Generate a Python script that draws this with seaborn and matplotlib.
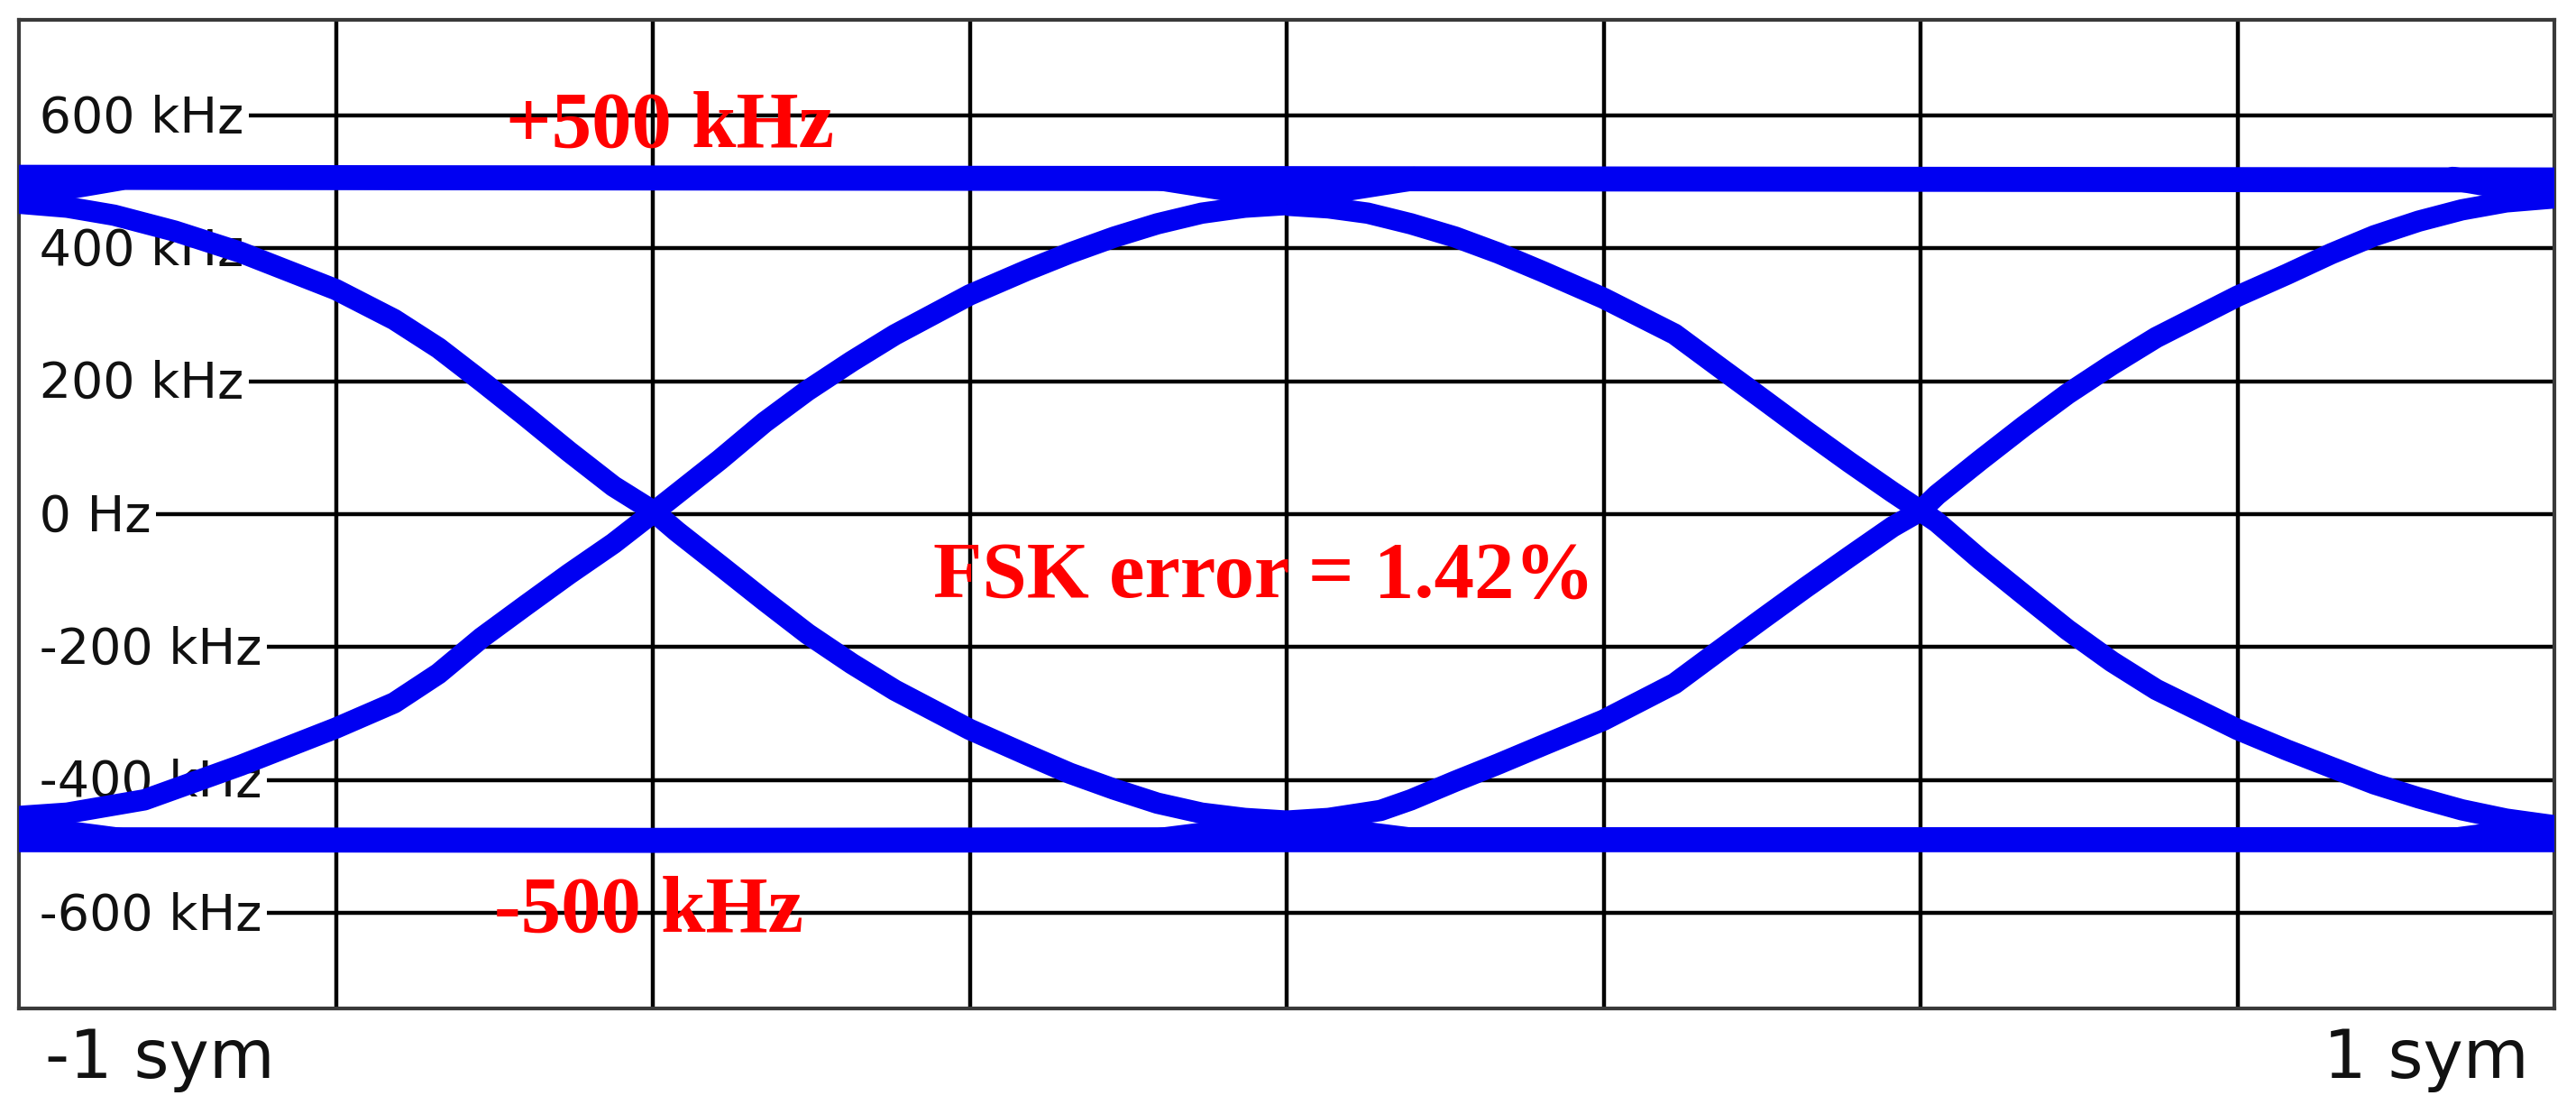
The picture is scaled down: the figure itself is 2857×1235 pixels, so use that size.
"""FSK eye diagram: frequency deviation over two symbol periods."""

import matplotlib
matplotlib.use('Agg')
import matplotlib.pyplot as plt
import matplotlib.transforms as mtransforms
import pandas as pd
import seaborn as sns

BLUE = '#0000f2'

# traces: t in symbols, f in kHz
fall_left_t = [-1.0, -0.962, -0.925, -0.877, -0.825, -0.75, -0.704, -0.669, -0.635,
               -0.600, -0.566, -0.531, -0.5, -0.481, -0.447, -0.412, -0.378, -0.343,
               -0.309, -0.25, -0.205, -0.171, -0.136, -0.102, -0.067, -0.033, 0.0]
fall_left_f = [468, 462, 450, 426, 394, 338, 293, 250, 200,
               147, 94, 42, 5, -26, -77, -130, -180, -225,
               -265, -324, -362, -390, -414, -435, -450, -458, -462]

rise_left_t = [-1.0, -0.962, -0.901, -0.825, -0.75, -0.704, -0.669, -0.635, -0.600,
               -0.566, -0.531, -0.5, -0.447, -0.412, -0.378, -0.343, -0.309, -0.25,
               -0.205, -0.171, -0.136, -0.102, -0.067, -0.033, 0.0]
rise_left_f = [-455, -450, -430, -378, -322, -284, -240, -186, -137,
               -90, -44, 2, 82, 138, 186, 230, 270, 330,
               367, 393, 417, 437, 453, 462, 466]

fall_right_t = [0.0, 0.033, 0.064, 0.098, 0.133, 0.167, 0.202, 0.25, 0.306, 0.340,
                0.375, 0.409, 0.444, 0.478, 0.5, 0.513, 0.547, 0.582, 0.616, 0.651,
                0.686, 0.75, 0.789, 0.824, 0.858, 0.893, 0.927, 0.962, 1.0]
fall_right_f = [465, 461, 453, 437, 417, 393, 365, 325, 271, 223,
                174, 126, 78, 33, 5, -12, -68, -122, -174, -222,
                -264, -324, -355, -381, -406, -427, -445, -459, -469]

rise_right_t = [0.0, 0.033, 0.074, 0.098, 0.133, 0.167, 0.202, 0.25, 0.306, 0.340,
                0.375, 0.409, 0.444, 0.478, 0.5, 0.513, 0.547, 0.582, 0.616, 0.651,
                0.686, 0.75, 0.789, 0.824, 0.858, 0.893, 0.927, 0.962, 1.0]
rise_right_f = [-462, -458, -446, -430, -402, -376, -348, -310, -255, -207,
                -158, -111, -64, -19, 5, 29, 81, 133, 181, 225,
                266, 328, 361, 392, 419, 441, 458, 470, 476]

# the two frequency rails
rail_t = [-1.0, -0.5, 0.0, 0.5, 1.0]
top_rail_f = [507, 506, 505, 504, 503]
bottom_rail_f = [-490, -491, -490, -490, -490]

# paths where the curves merge into the rails
join_edge_left_t = [-1.0, -0.96, -0.92]
join_center_t = [-0.10, -0.05, 0.0, 0.05, 0.10]
join_edge_right_t = [0.92, 0.96, 1.0]
join_top_left_f = [485, 492, 505]
join_top_center_f = [505, 490, 484, 490, 505]
join_top_right_f = [505, 492, 487]
join_bottom_left_f = [-472, -480, -490]
join_bottom_center_f = [-490, -478, -474, -478, -490]
join_bottom_right_f = [-490, -480, -477]

y_tick_values = [600, 400, 200, 0, -200, -400, -600]
y_tick_labels = ['600 kHz', '400 kHz', '200 kHz', '0 Hz', '-200 kHz', '-400 kHz', '-600 kHz']
x_grid_values = [-0.75, -0.5, -0.25, 0.0, 0.25, 0.5, 0.75]


def make_frame(pairs):
    parts = [pd.DataFrame({'t': t, 'f': f, 'trace': name}) for name, (t, f) in pairs.items()]
    return pd.concat(parts, ignore_index=True)


curves = make_frame({
    'fall_left': (fall_left_t, fall_left_f),
    'rise_left': (rise_left_t, rise_left_f),
    'fall_right': (fall_right_t, fall_right_f),
    'rise_right': (rise_right_t, rise_right_f),
})
rails = make_frame({
    'top': (rail_t, top_rail_f),
    'bottom': (rail_t, bottom_rail_f),
})
joins = make_frame({
    'top_left': (join_edge_left_t, join_top_left_f),
    'top_center': (join_center_t, join_top_center_f),
    'top_right': (join_edge_right_t, join_top_right_f),
    'bottom_left': (join_edge_left_t, join_bottom_left_f),
    'bottom_center': (join_center_t, join_bottom_center_f),
    'bottom_right': (join_edge_right_t, join_bottom_right_f),
})

sns.set_theme(style='white')
fig = plt.figure(figsize=(28.57, 12.35), dpi=100)
ax = fig.add_axes([21 / 2857, 117 / 1235, 2812 / 2857, 1096 / 1235])

line_kw = dict(x='t', y='f', units='trace', estimator=None, sort=False,
               color=BLUE, solid_joinstyle='round', ax=ax)
sns.lineplot(data=rails, linewidth=20, zorder=3, solid_capstyle='butt', **line_kw)
sns.lineplot(data=joins, linewidth=19, zorder=3, solid_capstyle='round', **line_kw)
sns.lineplot(data=curves, linewidth=17, zorder=3, solid_capstyle='butt', **line_kw)

ax.set_xlim(-1, 1)
ax.set_ylim(-744, 744)
ax.set_xticks(x_grid_values)
ax.set_yticks(y_tick_values)
ax.tick_params(length=0, labelbottom=False, labelleft=False)
ax.set_xlabel('')
ax.set_ylabel('')
ax.grid(True, color='black', linewidth=3.2)
ax.set_axisbelow(True)
for spine in ax.spines.values():
    spine.set_visible(True)
    spine.set_color('#3a3a3a')
    spine.set_linewidth(3)

# y labels sit inside the plot and mask the start of each grid line
trans = mtransforms.blended_transform_factory(ax.transAxes, ax.transData)
for val, lab in zip(y_tick_values, y_tick_labels):
    ax.text(0.0018, val - 25, ' ' + lab, transform=trans, fontsize=40,
            family='DejaVu Sans', color='#111111', ha='left', va='baseline', zorder=2,
            bbox=dict(facecolor='white', edgecolor='none', pad=4))

fig.text(50 / 2857, 1 - 1195 / 1235, '-1 sym', fontsize=54, family='DejaVu Sans',
         color='#111111', ha='left', va='baseline')
fig.text(2805 / 2857, 1 - 1195 / 1235, '1 sym', fontsize=54, family='DejaVu Sans',
         color='#111111', ha='right', va='baseline')

red_kw = dict(color='red', fontsize=64, fontweight='bold', family='Liberation Serif',
              ha='left', va='baseline', zorder=4)
ax.text(-0.616, 553, '+500 kHz', **red_kw)
ax.text(-0.625, -628, '-500 kHz', **red_kw)
ax.text(-0.279, -124, 'FSK error = 1.42%', **red_kw)

fig.savefig('out.png', dpi=100)
plt.close(fig)
